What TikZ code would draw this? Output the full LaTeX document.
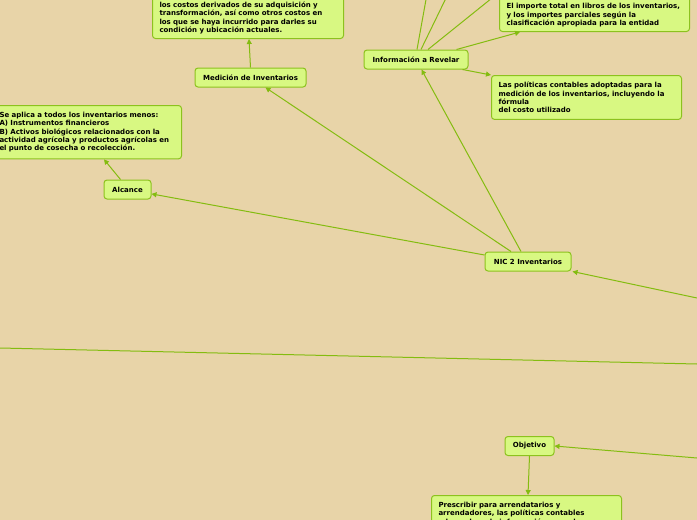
\documentclass[tikz,border=0pt]{standalone}
\usepackage{fontspec}
\setmainfont{DejaVu Sans}
\usetikzlibrary{arrows.meta,calc}
\definecolor{bg}{HTML}{E8D4A8}
\definecolor{bfill}{HTML}{D8F882}
\definecolor{bdraw}{HTML}{8CC21E}
\definecolor{lcol}{HTML}{84BC10}
\begin{document}
\begin{tikzpicture}[x=1pt,y=-1pt,
 box/.style={draw=bdraw,fill=bfill,line width=1pt,rounded corners=3pt,font=\fontsize{7}{8.4}\selectfont\bfseries,inner sep=0pt},
 sbox/.style={box,minimum height=19pt},
 tbox/.style={box,align=left,inner xsep=7pt,inner ysep=6.5pt,anchor=north west},
 ubox/.style={tbox,inner ysep=4.5pt,anchor=south west},
 conn/.style={draw=lcol,line width=1pt},
 arr/.style={conn,-{Triangle[length=5pt,width=5pt]}}]
\useasboundingbox (0,0) rectangle (697,520);
\fill[bg] (0,0) rectangle (697,520);
\clip (0,0) rectangle (697,520);

% free ends
\coordinate (u1) at (427,-6);
\coordinate (u2) at (448,-6);
\coordinate (u3) at (497,-6);
\coordinate (ll) at (0,348);
\coordinate (lr) at (697,364);
\coordinate (r1) at (697,298);
\coordinate (r2) at (697,458);

% small nodes
\node[sbox,minimum width=104pt] (info) at (416,59.5) {Información a Revelar};
\node[sbox,minimum width=111pt] (med) at (250.5,77.5) {Medición de Inventarios};
\node[sbox,minimum width=47pt] (alc) at (127.5,189.5) {Alcance};
\node[sbox,minimum width=86pt] (nic) at (528,261.5) {NIC 2 Inventarios};
\node[sbox,minimum width=49pt] (obj) at (529.5,446) {Objetivo};

% text boxes
\node[tbox,text width=175pt] (alct) at (-8,105) {Se aplica a todos los inventarios menos:\\A) Instrumentos financieros\\B) Activos biológicos relacionados con la\\actividad agrícola y productos agrícolas en\\el punto de cosecha o recolección.};
\node[tbox,text width=176pt] (pol) at (491,75) {Las políticas contables adoptadas para la\\medición de los inventarios, incluyendo la\\fórmula\\del costo utilizado};
\node[ubox,text width=177pt] (medt) at (152,39) {\mbox{}\\\mbox{}\\los costos derivados de su adquisición y\\transformación, así como otros costos en\\los que se haya incurrido para darles su\\condición y ubicación actuales.};
\node[ubox,text width=176pt] (imp) at (499,32) {\mbox{}\\El importe total en libros de los inventarios,\\y los importes parciales según la\\clasificación apropiada para la entidad};
\node[tbox,text width=176pt] (pres) at (431,495) {Prescribir para arrendatarios y\\arrendadores, las políticas contables\\adecuadas y la información a revelar\\\mbox{}};

% connectors
\draw[arr] ([xshift=-7pt]nic.north) -- (info);
\draw[arr] ([xshift=-17pt]nic.north) -- (med);
\draw[arr] ([yshift=6.5pt]nic.west) -- (alc);
\draw[arr] ([xshift=-7pt]alc.north) -- ([xshift=112pt]alct.south west);
\draw[arr] (med.north) -- ([xshift=97pt]medt.south west);
\draw[arr] ([xshift=-12pt]info.north east) -- ([xshift=21pt]imp.south west);
\draw[arr] ([xshift=-6pt]info.south east) -- (pol.north west);
\draw[conn] ([xshift=1pt]info.north) -- (u1);
\draw[conn] ([xshift=5pt]info.north) -- (u2);
\draw[conn] ([xshift=12pt]info.north) -- (u3);
\draw[conn] (ll) -- (lr);
\draw[arr] (r1) -- ([xshift=1pt]nic.south east);
\draw[arr] (r2) -- (obj.east);
\draw[arr] (obj.south) -- ([xshift=97pt]pres.north west);
\end{tikzpicture}
\end{document}
